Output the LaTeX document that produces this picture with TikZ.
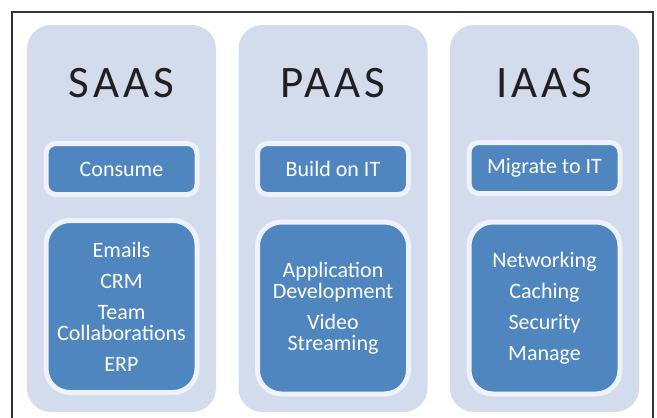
\documentclass[tikz,border=0pt]{standalone}
\usepackage{fontspec}
\setmainfont{Carlito}
\newfontfamily\headfont[LetterSpace=9]{Carlito}
\usetikzlibrary{positioning}
\definecolor{panelbg}{HTML}{D3DCEC}
\definecolor{boxblue}{HTML}{4F86C0}
\definecolor{boxrim}{HTML}{EEF3FB}
\definecolor{headtxt}{HTML}{231F20}
\tikzset{
  panel/.style={fill=panelbg, rounded corners=24pt, minimum width=189pt, minimum height=387pt, inner sep=0pt},
  head/.style={font=\headfont\fontsize{45}{45}\selectfont, text=headtxt, anchor=base},
  tagbox/.style={draw=boxrim, line width=5pt, fill=boxblue, rounded corners=10pt, minimum width=151pt, minimum height=51pt, inner sep=0pt, text=white, font=\fontsize{22}{21}\selectfont},
  listbox/.style={tagbox, rounded corners=24pt, minimum height=172pt, align=center}
}
\begin{document}
\begin{tikzpicture}[x=1pt, y=-1pt]
\useasboundingbox (0,0) rectangle (657,418);
% outer frame, open at the bottom
\draw[black!80, line width=1.2pt] (12,418) -- (12,12) -- (653,12) -- (653,418);
% ---- SAAS ----
\node[panel] (saas) at (121.5,218.5) {};
\node[head] (saashead) at (121.5,97) {SAAS};
\node[tagbox] (saastag) at (121.5,169) {Consume};
\node[listbox] (saaslist) at (121.5,306.5) {Emails\\[10pt]CRM\\[10pt]Team\\Collaborations\\[10pt]ERP};
% ---- PAAS ----
\node[panel] (paas) at (333,218.5) {};
\node[head] (paashead) at (333,97) {PAAS};
\node[tagbox] (paastag) at (333,169) {Build on IT};
\node[listbox] (paaslist) at (333,308) {Application\\Development\\[10pt]Video\\Streaming};
% ---- IAAS ----
\node[panel] (iaas) at (544.5,218.5) {};
\node[head] (iaashead) at (544.5,97) {IAAS};
\node[tagbox] (iaastag) at (544.5,168) {Migrate to IT};
\node[listbox] (iaaslist) at (544.5,308) {Networking\\[10pt]Caching\\[10pt]Security\\[10pt]Manage};
\end{tikzpicture}
\end{document}
